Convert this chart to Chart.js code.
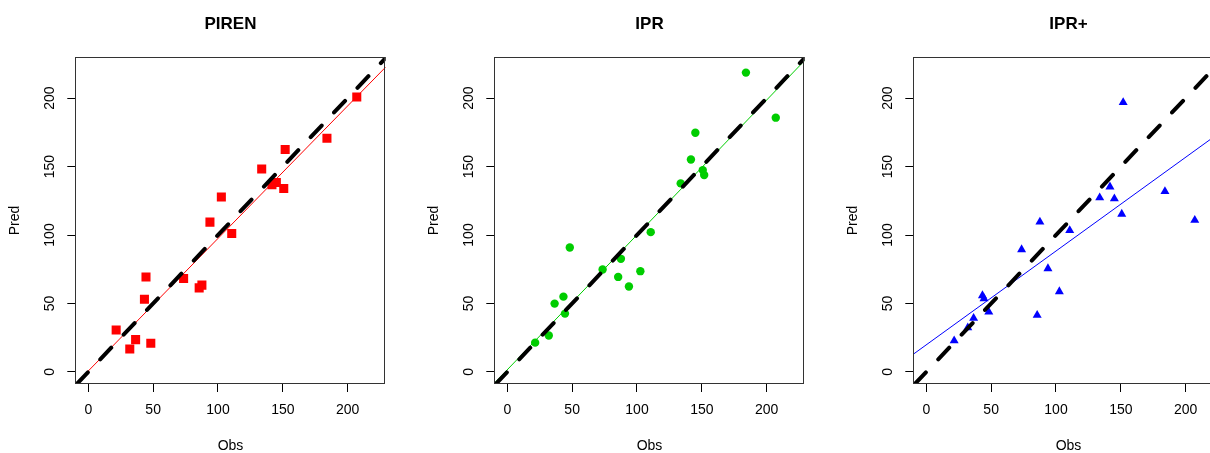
<!DOCTYPE html>
<html lang="en">
<head>
<meta charset="UTF-8">
<title>Obs vs Pred</title>
<script src="https://cdn.jsdelivr.net/npm/chart.js@4.4.0/dist/chart.umd.min.js"></script>
<style>
	body { margin: 0; background: #fff; }
	#wrap { width: 1210px; height: 453px; overflow: hidden; position: relative; }
	canvas { position: absolute; top: 0; }
</style>
</head>
<body>
<div id="wrap">
	<canvas id="c0" width="419" height="453" style="left:0px"></canvas>
	<canvas id="c1" width="419" height="453" style="left:419px"></canvas>
	<canvas id="c2" width="419" height="453" style="left:838px"></canvas>
</div>
<script>

// observed values, shared by the three panels
var obs = [21.5, 32, 36.5, 43.3, 44.5, 48.2, 73.5, 85.5, 87.6, 93.8, 102.6, 110.6, 133.7, 141.6, 145, 150.7, 151.8, 184, 207];
// predictions of each model
var predPiren = [30.7, 16.8, 23.6, 53.1, 69.4, 21, 68.2, 61.4, 63.4, 109.4, 127.7, 101.1, 148.2, 136.7, 138.4, 134, 162.5, 170.6, 200.8];
var predIpr = [21.4, 26.6, 49.9, 55, 42.6, 90.9, 74.8, 69.4, 82.6, 62.4, 73.6, 102.1, 137.7, 155.2, 174.7, 147.4, 143.8, 218.6, 185.7];
var predIprPlus = [22.9, 32.4, 39.2, 55.8, 53.6, 43.9, 89.4, 41.4, 109.6, 75.5, 58.7, 103.3, 127.2, 135.2, 126.5, 115.3, 196.9, 131.8, 110.9];

var panelTitles = ['PIREN', 'IPR', 'IPR+'];
var tickValues = [0, 50, 100, 150, 200];
// fitted lines
var fitIntercept = [0.7, 1.6, 19.8];
var fitSlope = [0.968, 0.985, 0.685];

var FONT = '"Liberation Sans", Arial, sans-serif';
var xMin = -10, xMax = 229.3, yMin = -8.8, yMax = 230;

// frame round the plot region
var boxPlugin = {
	id: 'box',
	afterDatasetsDraw: function(chart) {
		var a = chart.chartArea, ctx = chart.ctx;
		ctx.save();
		ctx.strokeStyle = '#333';
		ctx.lineWidth = 1;
		ctx.strokeRect(Math.round(a.left) + 0.5, Math.round(a.top) + 0.5, Math.round(a.width) - 1, Math.round(a.height) - 1);
		ctx.restore();
	}
};

function makePanel(id, idx, preds, color, style, radius) {
	var pts = obs.map(function(v, i) { return {x: v, y: preds[i]}; });
	var lo = Math.max(xMin, yMin);
	var identity = [{x: lo, y: lo}, {x: xMax + 20, y: xMax + 20}];
	var fit = [xMin, xMax].map(function(v) { return {x: v, y: fitIntercept[idx] + fitSlope[idx] * v}; });

	new Chart(document.getElementById(id), {
		type: 'scatter',
		data: {
			datasets: [
				{ data: identity, showLine: true, borderColor: '#000', borderWidth: 4, borderCapStyle: 'round', borderDash: [16, 18], pointRadius: 0, clip: 0 },
				{ data: fit, showLine: true, borderColor: color, borderWidth: 1, pointRadius: 0, clip: 0 },
				{ data: pts, backgroundColor: color, borderColor: color, borderWidth: 0, pointStyle: style, pointRadius: radius }
			]
		},
		options: {
			responsive: false,
			animation: false,
			devicePixelRatio: 1,
			events: [],
			layout: { padding: { left: 0, right: 33.3, top: 0, bottom: 0 } },
			plugins: {
				legend: { display: false },
				tooltip: { enabled: false },
				title: {
					display: true, text: panelTitles[idx], fullSize: false, color: '#000',
					font: { family: FONT, size: 17, weight: 'bold' },
					padding: { top: 14, bottom: 22.6 }
				}
			},
			scales: {
				x: {
					type: 'linear', min: xMin, max: xMax,
					afterBuildTicks: function(s) { s.ticks = tickValues.map(function(v) { return {value: v}; }); },
					afterFit: function(s) { s.height = 69; },
					grid: { display: true, drawOnChartArea: false, drawTicks: true, tickLength: 8, color: '#000' },
					border: { display: false },
					ticks: { color: '#000', font: { family: FONT, size: 14 }, padding: 10, maxRotation: 0 },
					title: { display: true, text: 'Obs', color: '#000', font: { family: FONT, size: 14 }, padding: { top: 0, bottom: -2 } }
				},
				y: {
					type: 'linear', min: yMin, max: yMax,
					afterBuildTicks: function(s) { s.ticks = tickValues.map(function(v) { return {value: v}; }); },
					afterFit: function(s) { s.width = 75.3; },
					grid: { display: true, drawOnChartArea: false, drawTicks: true, tickLength: 8, color: '#000' },
					border: { display: false },
					ticks: { color: '#000', font: { family: FONT, size: 14 }, padding: 5, minRotation: 90, maxRotation: 90, crossAlign: 'center' },
					title: { display: true, text: 'Pred', color: '#000', font: { family: FONT, size: 14 }, padding: { top: 7, bottom: 0 } }
				}
			}
		},
		plugins: [boxPlugin]
	});
}

makePanel('c0', 0, predPiren, '#ff0000', 'rect', 6.4);
makePanel('c1', 1, predIpr, '#00cd00', 'circle', 4.2);
makePanel('c2', 2, predIprPlus, '#0000ff', 'triangle', 5.2);
</script>
</body>
</html>
